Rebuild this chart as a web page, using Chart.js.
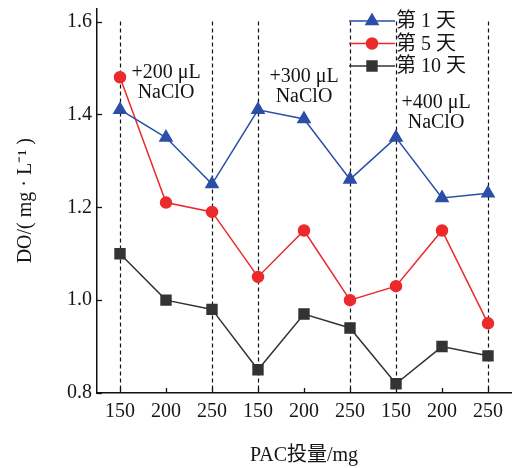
<!DOCTYPE html>
<html>
<head>
<meta charset="utf-8">
<script src="https://cdn.jsdelivr.net/npm/chart.js@4"></script>
<style>
  body { margin: 0; background: #fff; }
  #wrap { width: 531px; height: 468px; }
</style>
</head>
<body>
<div id="wrap"><canvas id="do"></canvas></div>
<script>
const categories = ['150', '200', '250', '150', '200', '250', '150', '200', '250'];
const day1 = [1.41, 1.35, 1.25, 1.41, 1.39, 1.26, 1.35, 1.22, 1.23];
const day5 = [1.48, 1.21, 1.19, 1.05, 1.15, 1.00, 1.03, 1.15, 0.95];
const day10 = [1.10, 1.00, 0.98, 0.85, 0.97, 0.94, 0.82, 0.90, 0.88];
const seriesNames = ['第 1 天', '第 5 天', '第 10 天'];
const dashedAt = [0, 2, 3, 5, 6, 8]; // category indices with dashed guide lines
const notes = [
    { at: 1, y: 1.49, lines: ['+200 μL', 'NaClO'] },
    { at: 4, y: 1.48, lines: ['+300 μL', 'NaClO'] },
    { at: 6.87, y: 1.425, lines: ['+400 μL', 'NaClO'] }
];

const serif = '"Liberation Serif", "Noto Sans CJK SC", serif';
const blue = '#2b4fa6';
const red = '#ec2a2c';
const black = '#333333';
const ink = '#151515';

const extras = {
    id: 'extras',
    beforeDatasetsDraw(chart) {
        const c = chart.ctx, x = chart.scales.x, y = chart.scales.y;
        c.save();
        c.strokeStyle = '#111';
        c.lineWidth = 1.2;
        c.setLineDash([4, 3]);
        dashedAt.forEach(i => {
            const px = Math.round(x.getPixelForValue(i)) + 0.5;
            c.beginPath();
            c.moveTo(px, y.getPixelForValue(1.6));
            c.lineTo(px, y.bottom);
            c.stroke();
        });
        // inward tick marks
        c.setLineDash([]);
        c.lineWidth = 1.3;
        categories.forEach((_, i) => {
            const px = Math.round(x.getPixelForValue(i)) + 0.5;
            c.beginPath();
            c.moveTo(px, y.bottom);
            c.lineTo(px, y.bottom - 5);
            c.stroke();
        });
        y.ticks.forEach(t => {
            const py = Math.round(y.getPixelForValue(t.value)) + 0.5;
            c.beginPath();
            c.moveTo(x.left, py);
            c.lineTo(x.left + 5, py);
            c.stroke();
        });
        c.restore();
    },
    afterDatasetsDraw(chart) {
        const c = chart.ctx, x = chart.scales.x, y = chart.scales.y;
        c.save();
        c.fillStyle = ink;
        c.font = '20px ' + serif;
        c.textAlign = 'center';
        c.textBaseline = 'middle';
        notes.forEach(n => {
            const px = x.getPixelForValue(n.at);
            const py = y.getPixelForValue(n.y);
            c.fillText(n.lines[0], px, py);
            c.fillText(n.lines[1], px, py + 20);
        });
        // legend
        const cols = [blue, red, black];
        const shapes = ['triangle', 'circle', 'rect'];
        const rads = [7, 5.5, 7];
        chart.data.datasets.forEach((ds, k) => {
            const ly = 21 + k * 22.5;
            c.strokeStyle = cols[k];
            c.lineWidth = 1.5;
            c.beginPath();
            c.moveTo(349, ly);
            c.lineTo(395, ly);
            c.stroke();
            c.fillStyle = cols[k];
            Chart.helpers.drawPoint(c, { pointStyle: shapes[k], radius: rads[k], rotation: 0, borderWidth: 1 }, 372, ly);
            c.fillStyle = ink;
            c.font = '20px ' + serif;
            c.textAlign = 'left';
            c.fillText(ds.label, 396, ly + 1);
        });
        c.restore();
    }
};

function series(label, data, color, style, r) {
    return {
        label: label,
        data: data,
        borderColor: color,
        backgroundColor: color,
        borderWidth: 1.5,
        pointStyle: style,
        pointRadius: r,
        pointHoverRadius: r,
        tension: 0
    };
}

new Chart(document.getElementById('do').getContext('2d'), {
    type: 'line',
    data: {
        labels: categories,
        datasets: [
            series(seriesNames[0], day1, blue, 'triangle', 7),
            series(seriesNames[1], day5, red, 'circle', 5.5),
            series(seriesNames[2], day10, black, 'rect', 7)
        ]
    },
    plugins: [extras],
    options: {
        responsive: true,
        maintainAspectRatio: false,
        animation: false,
        layout: { padding: { top: 8, right: 20, left: 0, bottom: 0 } },
        plugins: {
            legend: { display: false },
            tooltip: { enabled: false }
        },
        scales: {
            x: {
                offset: true,
                grid: { display: false, drawTicks: false },
                border: { color: '#111', width: 1.5 },
                ticks: { color: ink, font: { family: serif, size: 20 }, padding: 7 },
                title: {
                    display: true,
                    text: 'PAC投量/mg',
                    color: ink,
                    font: { family: serif, size: 20 },
                    padding: { top: 0, bottom: 0 }
                },
                afterFit(s) { s.height = 75; s.paddingLeft = 0; s.paddingRight = 0; }
            },
            y: {
                min: 0.8,
                max: 1.628,
                grid: { display: false, drawTicks: false },
                border: { color: '#111', width: 1.5 },
                ticks: {
                    stepSize: 0.2,
                    includeBounds: false,
                    color: ink,
                    font: { family: serif, size: 20 },
                    padding: 5,
                    callback: v => v.toFixed(1)
                },
                title: {
                    display: true,
                    text: 'DO/( mg · L⁻¹ )',
                    color: ink,
                    font: { family: serif, size: 20 },
                    padding: { top: 14, bottom: 0 }
                },
                afterFit(s) { s.width = 97; s.paddingTop = 0; s.paddingBottom = 0; }
            }
        }
    }
});
</script>
</body>
</html>
